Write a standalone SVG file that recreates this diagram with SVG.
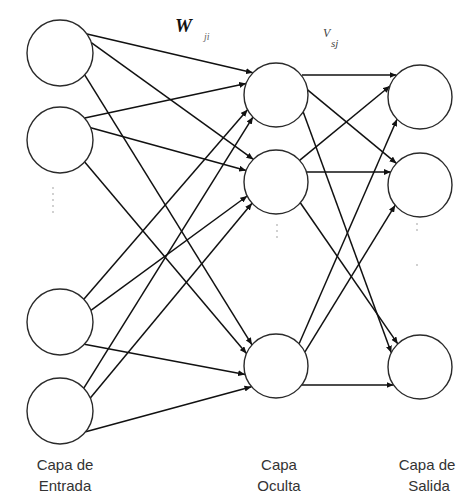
<svg xmlns="http://www.w3.org/2000/svg" width="474" height="501" viewBox="0 0 474 501">
<style>
.node{fill:#fff;stroke:#2a2a2a;stroke-width:1.4}
.edge{stroke:#111;stroke-width:1.5;fill:none;marker-end:url(#arr)}
.lbl{font-family:"Liberation Sans",Arial,sans-serif;font-size:15px;fill:#333;text-anchor:middle}
.dot{fill:#bbb}
.math{font-family:"Liberation Serif","Times New Roman",serif;font-style:italic}
</style>
<defs>
<marker id="arr" markerUnits="userSpaceOnUse" markerWidth="8" markerHeight="6" refX="7" refY="3" orient="auto">
<path d="M0,0 L7,3 L0,6 z" fill="#111"/>
</marker>
</defs>
<rect width="474" height="501" fill="#fff"/>
<g id="connectors">
<line class="edge" x1="87" y1="34" x2="252.9" y2="72.8"/>
<line class="edge" x1="91.3" y1="42.6" x2="253.4" y2="159.4"/>
<line class="edge" x1="84.7" y1="74.9" x2="252" y2="344.8"/>
<line class="edge" x1="84.7" y1="118.1" x2="246.1" y2="83.5"/>
<line class="edge" x1="90.7" y1="127.8" x2="246.1" y2="170.5"/>
<line class="edge" x1="84.7" y1="161.9" x2="246.5" y2="353.6"/>
<line class="edge" x1="83.8" y1="299.2" x2="247.5" y2="109.7"/>
<line class="edge" x1="90.9" y1="310.4" x2="247.2" y2="196"/>
<line class="edge" x1="84.3" y1="344.3" x2="245.1" y2="374.4"/>
<line class="edge" x1="83.8" y1="388.2" x2="252.9" y2="117.1"/>
<line class="edge" x1="90.3" y1="397.9" x2="252" y2="203.3"/>
<line class="edge" x1="85.7" y1="431.7" x2="251.5" y2="386.7"/>
<line class="edge" x1="302" y1="75" x2="396.5" y2="75"/>
<line class="edge" x1="307.6" y1="89.9" x2="396.5" y2="163.4"/>
<line class="edge" x1="303.2" y1="111.9" x2="391.3" y2="352.7"/>
<line class="edge" x1="299.6" y1="160.4" x2="390" y2="86"/>
<line class="edge" x1="306.4" y1="172" x2="390.8" y2="172"/>
<line class="edge" x1="300.3" y1="202.7" x2="397.8" y2="343.9"/>
<line class="edge" x1="299.1" y1="343.8" x2="397" y2="119.2"/>
<line class="edge" x1="304.8" y1="352.1" x2="395.2" y2="205.2"/>
<line class="edge" x1="301.7" y1="385" x2="393.5" y2="385"/>
</g>
<g id="input1"><circle class="node" cx="60" cy="53" r="33"/></g>
<g id="input2"><circle class="node" cx="60" cy="140" r="33"/></g>
<g id="input3"><circle class="node" cx="60" cy="322" r="33"/></g>
<g id="input4"><circle class="node" cx="60" cy="411" r="33"/></g>
<g id="hidden1"><circle class="node" cx="276" cy="95" r="32"/></g>
<g id="hidden2"><circle class="node" cx="276" cy="182" r="32"/></g>
<g id="hidden3"><circle class="node" cx="276" cy="366" r="32"/></g>
<g id="output1"><circle class="node" cx="420" cy="97" r="32"/></g>
<g id="output2"><circle class="node" cx="420" cy="185" r="32"/></g>
<g id="output3"><circle class="node" cx="420" cy="367" r="32"/></g>
<g id="dots">
<circle class="dot" cx="53" cy="188" r="0.9"/><circle class="dot" cx="53" cy="194" r="0.9"/><circle class="dot" cx="53" cy="200" r="0.9"/><circle class="dot" cx="53" cy="206" r="0.9"/><circle class="dot" cx="53" cy="212" r="0.9"/>
<circle class="dot" cx="277" cy="225" r="0.9"/><circle class="dot" cx="277" cy="231" r="0.9"/><circle class="dot" cx="277" cy="237" r="0.9"/>
<circle class="dot" cx="417" cy="224" r="0.9"/><circle class="dot" cx="417" cy="230" r="0.9"/><circle class="dot" cx="417" cy="265" r="0.9"/>
</g>
<g id="weights">
<text class="math" x="175" y="32" font-size="19" font-weight="bold" fill="#111">W</text>
<text class="math" x="204" y="40" font-size="10" fill="#666">ji</text>
<text class="math" x="323" y="37" font-size="12" fill="#444">V</text>
<text class="math" x="331" y="47" font-size="11" fill="#444">sj</text>
</g>
<g id="labels">
<text class="lbl" x="65" y="470">Capa de</text>
<text class="lbl" x="65" y="491">Entrada</text>
<text class="lbl" x="279" y="470">Capa</text>
<text class="lbl" x="279" y="491">Oculta</text>
<text class="lbl" x="427" y="470">Capa de</text>
<text class="lbl" x="429" y="491">Salida</text>
</g>
</svg>
